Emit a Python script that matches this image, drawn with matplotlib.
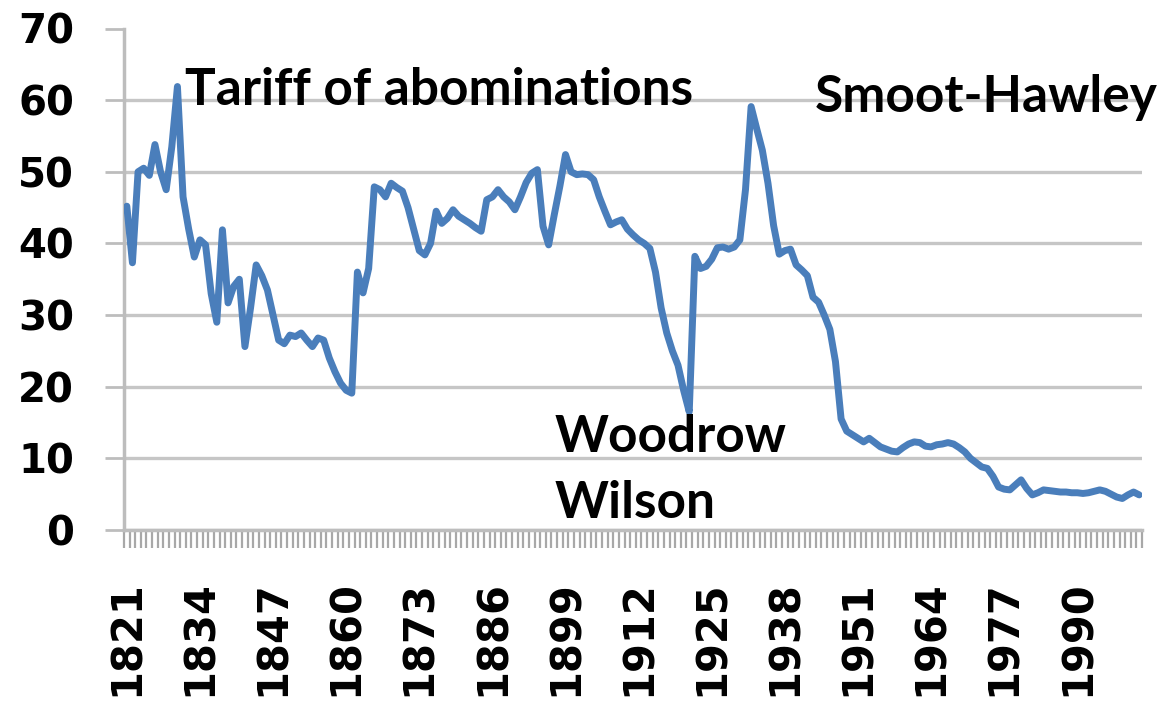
import numpy as np
import matplotlib
matplotlib.use("Agg")
import matplotlib.pyplot as plt
from matplotlib.transforms import ScaledTranslation

# ---- data ----
years = list(range(1821, 2002))
tariff = [
    45.2, 37.3, 50.0, 50.5, 49.5, 53.8, 50.0, 47.5, 53.5, 61.9,
    46.5, 42.0, 38.1, 40.5, 39.8, 33.0, 29.0, 41.9, 31.7, 34.0,
    35.0, 25.6, 31.0, 37.0, 35.5, 33.5, 30.0, 26.5, 26.0, 27.2,
    27.0, 27.5, 26.5, 25.6, 26.8, 26.5, 24.0, 22.1, 20.5, 19.5,
    19.1, 36.0, 33.1, 36.5, 47.9, 47.5, 46.5, 48.4, 47.8, 47.3,
    45.0, 42.0, 39.0, 38.4, 40.0, 44.5, 42.8, 43.5, 44.7, 43.8,
    43.3, 42.8, 42.2, 41.7, 46.1, 46.5, 47.5, 46.5, 45.8, 44.7,
    46.5, 48.5, 49.8, 50.3, 42.4, 39.8, 44.0, 48.0, 52.4, 50.0,
    49.6, 49.7, 49.6, 48.9, 46.5, 44.5, 42.6, 43.0, 43.3, 42.0,
    41.2, 40.5, 40.0, 39.3, 36.0, 31.0, 27.5, 25.0, 23.0, 19.5,
    16.5, 38.2, 36.5, 36.8, 37.8, 39.4, 39.5, 39.2, 39.5, 40.5,
    47.5, 59.1, 56.0, 53.0, 48.4, 42.5, 38.5, 39.0, 39.2, 37.0,
    36.3, 35.5, 32.5, 31.8, 30.0, 28.0, 23.5, 15.5, 13.8, 13.3,
    12.8, 12.3, 12.8, 12.2, 11.6, 11.3, 11.0, 10.9, 11.5, 12.0,
    12.3, 12.2, 11.7, 11.6, 11.9, 12.0, 12.2, 12.0, 11.5, 10.9,
    10.0, 9.4, 8.8, 8.6, 7.5, 6.0, 5.7, 5.6, 6.3, 7.0,
    5.8, 4.9, 5.2, 5.6, 5.5, 5.4, 5.3, 5.3, 5.2, 5.2,
    5.1, 5.2, 5.4, 5.6, 5.4, 5.0, 4.6, 4.4, 4.9, 5.3, 4.9,
]
label_step = 13
y_ticks = [0, 10, 20, 30, 40, 50, 60, 70]
annotations = [
    ("Tariff of abominations", 185, 105),
    ("Smoot-Hawley", 815, 112),
    ("Woodrow", 555, 452),
    ("Wilson", 555, 518),
]

W, H = 1162, 701
fig = plt.figure(figsize=(W / 100, H / 100), dpi=100)
ax = fig.add_axes([124 / W, (H - 530) / H, (1142 - 124) / W, (530 - 28.5) / H])

x = np.arange(len(years))
ax.plot(x, tariff, color="#4a7ebb", lw=5.0, solid_joinstyle="round",
        solid_capstyle="round", zorder=3)

ax.set_xlim(-0.5, len(years) - 0.5)
ax.set_ylim(0, 70)

ax.set_yticks(y_ticks)
ax.set_xticks(x[::label_step])
ax.set_xticklabels([str(y) for y in years[::label_step]], rotation=90)
ax.set_xticks(np.arange(-0.5, len(years)), minor=True)

for lab in ax.get_xticklabels():
    lab.set_fontfamily("DejaVu Sans")
    lab.set_fontweight("bold")
    lab.set_fontsize(30)
    lab.set_transform(lab.get_transform() + ScaledTranslation(5 / 100, 0, fig.dpi_scale_trans))
for lab in ax.get_yticklabels():
    lab.set_fontfamily("DejaVu Sans")
    lab.set_fontweight("bold")
    lab.set_fontsize(29)

ax.tick_params(axis="x", which="major", length=0, pad=36)
ax.tick_params(axis="x", which="minor", length=13, width=1.6, color="#a8a8a8")
ax.tick_params(axis="y", which="major", length=14, width=2.0, color="#bdbdbd", pad=22)

ax.set_axisbelow(True)
ax.yaxis.grid(True, color="#c6c6c6", lw=2.4)
ax.xaxis.grid(False)
gls = ax.yaxis.get_gridlines()
gls[-1].set_visible(False)

for s in ("top", "right"):
    ax.spines[s].set_visible(False)
for s in ("left", "bottom"):
    ax.spines[s].set_color("#bdbdbd")
    ax.spines[s].set_linewidth(2.5)

for txt, px, py in annotations:
    fig.text(px / W, (H - py) / H, txt, family="Lato", weight="bold",
             fontsize=37, color="#000000", ha="left", va="baseline")

fig.savefig("out.png", dpi=100, facecolor="white")
